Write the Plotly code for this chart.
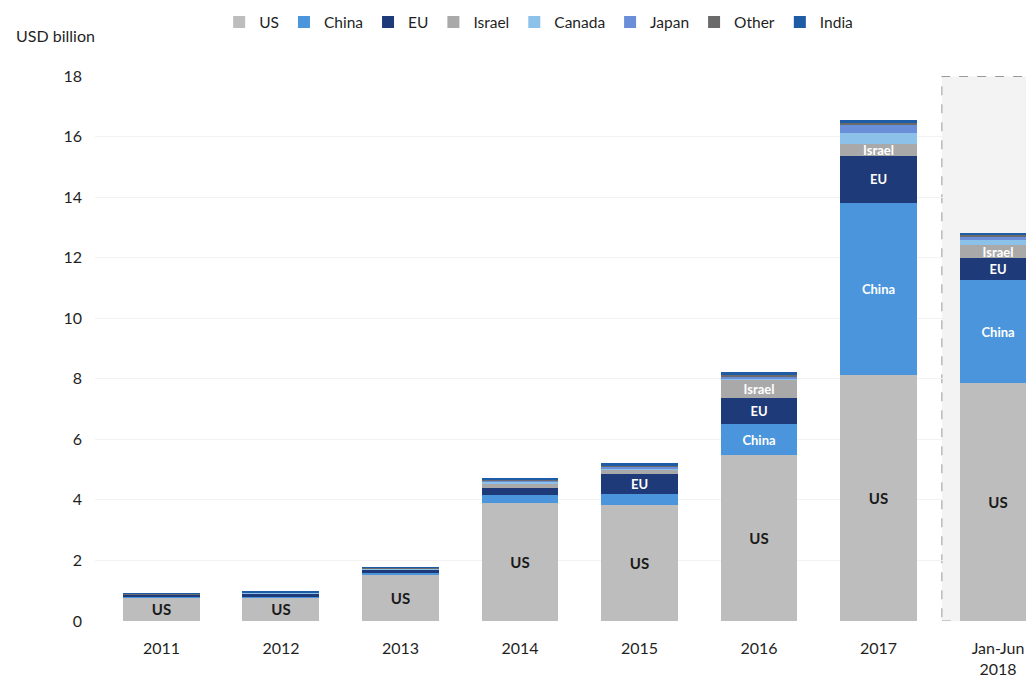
import plotly.graph_objects as go

# Investment by origin of investor, USD billion
categories = ["2011", "2012", "2013", "2014", "2015", "2016", "2017", "Jan-Jun<br>2018"]
us     = [0.78, 0.77, 1.52, 3.89, 3.83, 5.47, 8.11, 7.85]
china  = [0.02, 0.03, 0.05, 0.27, 0.35, 1.02, 5.70, 3.40]
eu     = [0.07, 0.11, 0.12, 0.23, 0.69, 0.89, 1.55, 0.73]
israel = [0.01, 0.01, 0.02, 0.12, 0.12, 0.59, 0.40, 0.43]
canada = [0.01, 0.01, 0.02, 0.08, 0.06, 0.05, 0.35, 0.18]
japan  = [0.00, 0.00, 0.01, 0.05, 0.04, 0.05, 0.30, 0.12]
other  = [0.01, 0.01, 0.01, 0.03, 0.04, 0.08, 0.05, 0.05]
india  = [0.02, 0.02, 0.02, 0.04, 0.08, 0.06, 0.09, 0.03]

# Which bars carry an in-segment name label
us_labelled     = [True] * 8
china_labelled  = [False, False, False, False, False, True, True, True]
eu_labelled     = [False, False, False, False, True, True, True, True]
israel_labelled = [False, False, False, False, False, True, True, True]

FONT = "Lato"
INK = "#1f1f1f"

series = [
    ("US", us, "#bdbdbd", us_labelled, "#1a1a1a"),
    ("China", china, "#4a95dc", china_labelled, "white"),
    ("EU", eu, "#1e3a78", eu_labelled, "white"),
    ("Israel", israel, "#a9a9a9", israel_labelled, "white"),
    ("Canada", canada, "#8cc2ea", None, "white"),
    ("Japan", japan, "#6b8ed8", None, "white"),
    ("Other", other, "#6a6a6a", None, "white"),
    ("India", india, "#1f5ca6", None, "white"),
]

fig = go.Figure()
for name, vals, color, labelled, tcolor in series:
    flags = labelled or [False] * len(vals)
    text = [name if flag else "" for flag in flags]
    fig.add_trace(go.Bar(
        name=name,
        x=categories,
        y=vals,
        marker=dict(color=color, line=dict(width=0)),
        text=text,
        textposition="inside",
        insidetextanchor="middle",
        textangle=0,
        constraintext="none",
        textfont=dict(family=FONT, size=15 if name == "US" else 13,
                      color=tcolor, weight="bold"),
        hoverinfo="x+y+name",
    ))

# Shaded, dashed frame around the partial-year column
fig.add_shape(
    type="rect", xref="x", yref="y",
    x0=6.53, x1=7.6, y0=0, y1=17.98,
    line=dict(color="#9a9a9a", width=1, dash="dash"),
    fillcolor="#f3f3f3", layer="below",
)

fig.add_annotation(
    text="USD billion", xref="paper", yref="paper",
    x=-0.087, y=1.073, xanchor="left", yanchor="middle", showarrow=False,
    font=dict(family=FONT, size=16, color=INK),
)

fig.update_layout(
    width=1026, height=683,
    barmode="stack",
    bargap=0.356,
    plot_bgcolor="white",
    paper_bgcolor="white",
    margin=dict(l=95, r=0, t=75, b=62),
    font=dict(family=FONT, size=15, color=INK),
    showlegend=True,
    legend=dict(
        orientation="h", xref="container", yref="container",
        x=0.525, y=0.992, xanchor="center", yanchor="top",
        font=dict(family=FONT, size=15.5, color=INK),
        itemwidth=30, traceorder="normal", tracegroupgap=0,
        bgcolor="rgba(0,0,0,0)",
    ),
    xaxis=dict(
        type="category",
        range=[-0.556, 7.234],
        showgrid=False, showline=False, zeroline=False,
        ticks="", ticklabelstandoff=16,
        tickfont=dict(family=FONT, size=16, color=INK),
    ),
    yaxis=dict(
        range=[0, 18.03],
        tickvals=[0, 2, 4, 6, 8, 10, 12, 14, 16, 18],
        showgrid=True, gridcolor="#f2f2f2", gridwidth=1,
        zeroline=False, showline=False, ticks="",
        ticklabelstandoff=12,
        tickfont=dict(family=FONT, size=16, color=INK),
    ),
)

fig.write_html("out.html")
